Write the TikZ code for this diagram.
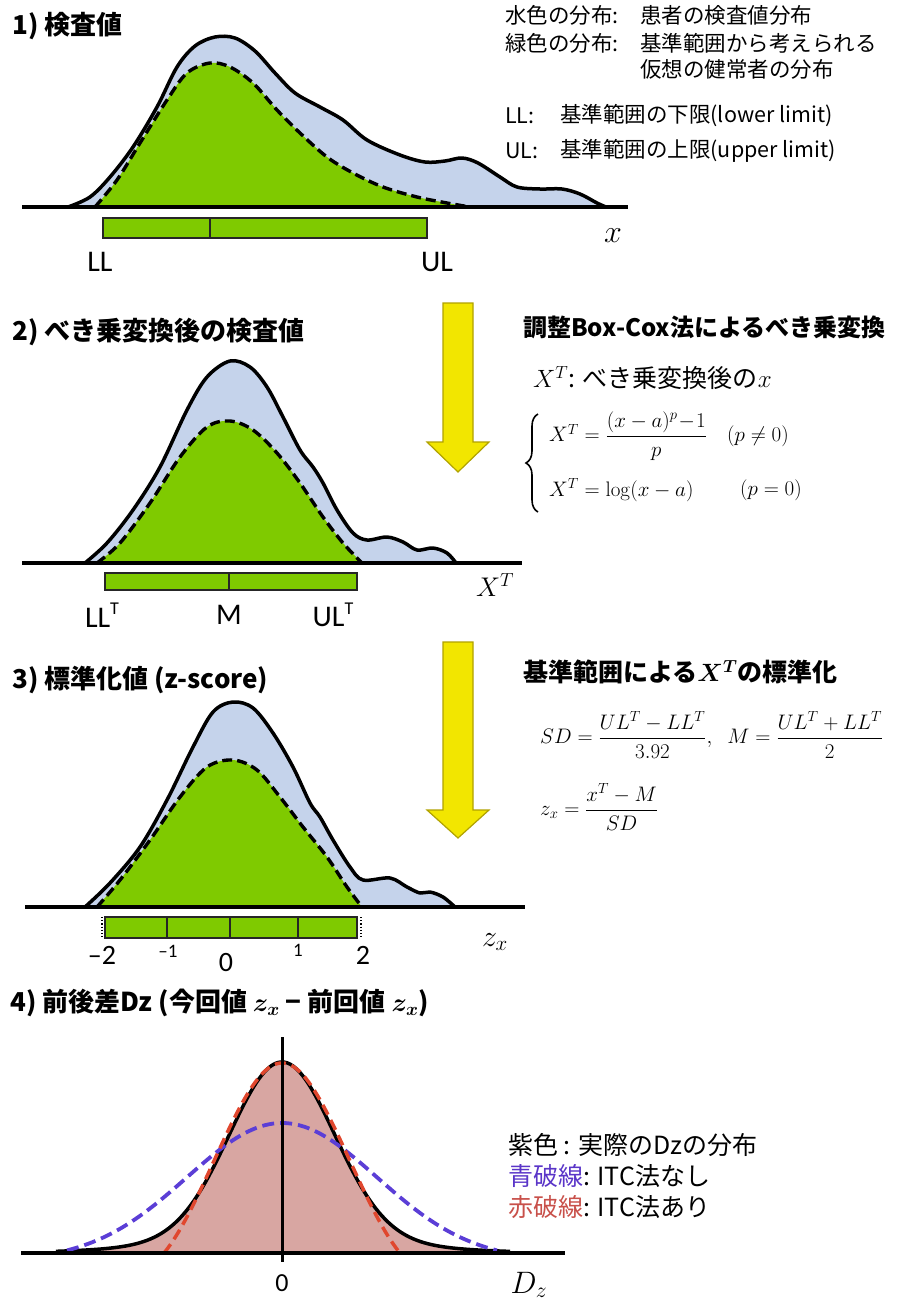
\RequirePackage{fix-cm}
\documentclass[tikz,border=0pt]{standalone}
\usepackage{amsmath}
\usepackage[no-math]{fontspec}
\setmainfont{Noto Sans CJK JP}
\newfontfamily\calfont{Carlito}
\usetikzlibrary{decorations.pathreplacing}
\definecolor{lblue}{HTML}{C5D3EB}
\definecolor{lgreen}{HTML}{7FCA00}
\definecolor{pinkfill}{HTML}{D8A6A2}
\definecolor{dblue}{HTML}{5B3ED6}
\definecolor{dred}{HTML}{E0472E}
\definecolor{arrowfill}{HTML}{F2E600}
\definecolor{arrowline}{HTML}{B0A200}
\definecolor{legblue}{HTML}{5A35C8}
\definecolor{legred}{HTML}{C8504A}
\tikzset{
  title/.style={anchor=west, inner sep=0pt, font=\fontsize{26}{30}\selectfont\bfseries\boldmath},
  head/.style={anchor=west, inner sep=0pt, font=\fontsize{25}{30}\selectfont\bfseries\boldmath},
  rtext/.style={anchor=west, inner sep=0pt, font=\fontsize{21.5}{26}\selectfont},
  legtext/.style={anchor=west, inner sep=0pt, font=\fontsize{25}{30}\selectfont},
  lab/.style={inner sep=0pt, font=\fontsize{30}{34}\selectfont\calfont},
  smalllab/.style={inner sep=0pt, font=\fontsize{19}{22}\selectfont\calfont},
  tick/.style={inner sep=0pt, font=\fontsize{28}{32}\selectfont\calfont},
  mathlab/.style={inner sep=0pt, font=\fontsize{30}{34}\selectfont},
  eq/.style={anchor=west, inner sep=0pt, font=\fontsize{21}{25}\selectfont},
  outer/.style={draw=black, line width=3.5pt, line join=round},
  dcurve/.style={draw=black, line width=3.4pt, dash pattern=on 10pt off 5pt, line join=round},
  axisline/.style={draw=black, line width=4.5pt},
  rangebar/.style={draw=black!85, line width=1.3pt, fill=lgreen},
  divline/.style={draw=black!85, line width=1.3pt},
  yarrow/.style={fill=arrowfill, draw=arrowline, line width=1.2pt, line join=miter},
  bluedash/.style={draw=dblue, line width=3.8pt, dash pattern=on 12pt off 6pt},
  reddash/.style={draw=dred, line width=3.5pt, dash pattern=on 11pt off 6pt},
}
\begin{document}
\begin{tikzpicture}[x=1pt, y=-1pt]
\useasboundingbox (0,0) rectangle (897,1302);

% ---------------- Panel 1 ----------------
\node[title] (t1) at (12,26) {1) 検査値};
\filldraw[fill=lblue, outer] plot[smooth, tension=0.55] coordinates {
 (68,207) (90,197) (110,177) (133,147) (157,107) (177,67) (195,46) (215,37) (235,38)
 (255,51) (275,73) (295,93) (320,107) (343,120) (367,140) (400,155) (425,162)
 (445,161) (462,158) (478,163) (500,177) (517,187) (540,189) (562,189) (580,194)
 (597,203) (606,207)} -- cycle;
\filldraw[fill=lgreen, dcurve] plot[smooth, tension=0.55] coordinates {
 (95,207) (117,180) (140,143) (167,100) (187,73) (210,63) (230,67) (253,83) (277,110)
 (300,133) (327,157) (353,173) (383,187) (417,197) (447,203) (470,207)} -- cycle;
\draw[axisline] (22,207) -- (628,207);
\draw[rangebar] (103,218) rectangle (427,238);
\draw[divline] (210,218) -- (210,238);
\node[lab] (ll1) at (100,262) {LL};
\node[lab] (ul1) at (437,262) {UL};
\node[mathlab, font=\fontsize{32}{36}\selectfont] (x1) at (613,236) {$x$};

\node[rtext] (r1a) at (505,15) {水色の分布:};
\node[rtext] (r1b) at (640,15) {患者の検査値分布};
\node[rtext] (r2a) at (505,43) {緑色の分布:};
\node[rtext] (r2b) at (640,43) {基準範囲から考えられる};
\node[rtext] (r3b) at (640,69) {仮想の健常者の分布};
\node[rtext] (r4a) at (505,116) {LL:};
\node[rtext] (r4b) at (560,116) {基準範囲の下限(lower limit)};
\node[rtext] (r5a) at (505,151) {UL:};
\node[rtext] (r5b) at (560,151) {基準範囲の上限(upper limit)};

% arrow 1
\filldraw[yarrow] (443,303) -- (473,303) -- (473,442) -- (489,442) -- (458,472)
  -- (427,442) -- (443,442) -- cycle;

% ---------------- Panel 2 ----------------
\node[title] (t2) at (12,332) {2) べき乗変換後の検査値};
\filldraw[fill=lblue, outer] plot[smooth, tension=0.55] coordinates {
 (85,563) (107,543) (133,510) (160,467) (187,410) (207,377) (230,361) (250,367)
 (267,387) (283,417) (300,450) (313,467) (323,483) (337,510) (353,533) (367,540)
 (387,537) (403,542) (417,550) (433,548) (447,553) (456,563)} -- cycle;
\filldraw[fill=lgreen, dcurve] plot[smooth, tension=0.55] coordinates {
 (97,563) (120,543) (150,503) (180,457) (207,427) (230,421) (253,430) (277,453)
 (300,483) (323,517) (343,543) (362,563)} -- cycle;
\draw[axisline] (22,563) -- (522,563);
\draw[rangebar] (105,573) rectangle (357,590);
\draw[divline] (229,573) -- (229,590);
\node[lab] (ll2) at (102,615) {LL\raisebox{0.42em}{\fontsize{18}{18}\selectfont T}};
\node[lab] (m2) at (229,615) {M};
\node[lab] (ul2) at (333,615) {UL\raisebox{0.42em}{\fontsize{18}{18}\selectfont T}};
\node[mathlab, font=\fontsize{27}{32}\selectfont] (xt2) at (495,585) {$X^{T}$};

\node[head, font=\fontsize{24}{28}\selectfont\bfseries] (h2) at (523,327) {調整Box-Cox法によるべき乗変換};
\node[anchor=west, inner sep=0pt, font=\fontsize{25}{30}\selectfont] (d2) at (533,378)
  {$X^{T}$: べき乗変換後の$x$};
\draw[decorate, decoration={brace, amplitude=12pt}, line width=1.6pt]
  (538,512) -- (538,414);
\node[eq] (e1) at (549,436) {$X^{T} = \dfrac{(x-a)^{p}\!-\!1}{p}$};
\node[eq] (c1) at (727,436) {$(p\neq 0)$};
\node[eq] (e2) at (549,490) {$X^{T} = \log(x-a)$};
\node[eq] (c2) at (740,490) {$(p=0)$};

% arrow 2
\filldraw[yarrow] (443,642) -- (473,642) -- (473,810) -- (489,810) -- (458,838)
  -- (427,810) -- (443,810) -- cycle;

% ---------------- Panel 3 ----------------
\node[title] (t3) at (12,680) {3) 標準化値 (z-score)};
\filldraw[fill=lblue, outer] plot[smooth, tension=0.55] coordinates {
 (85,907) (110,883) (140,847) (167,800) (193,747) (213,712) (233,702) (253,708)
 (273,733) (293,767) (310,803) (320,817) (333,840) (350,867) (363,880) (390,878)
 (407,887) (420,893) (430,892) (443,897) (455,907)} -- cycle;
\filldraw[fill=lgreen, dcurve] plot[smooth, tension=0.55] coordinates {
 (97,907) (120,880) (150,840) (180,797) (207,767) (233,760) (257,770) (280,797)
 (303,827) (327,857) (347,887) (362,907)} -- cycle;
\draw[axisline] (25,907) -- (525,907);
\draw[rangebar] (105,917) rectangle (357,938);
\foreach \xx in {167,230,298} \draw[divline] (\xx,917) -- (\xx,938);
\draw[black, line width=1.2pt, dotted] (102,917) -- (102,938);
\draw[black, line width=1.2pt, dotted] (361,917) -- (361,938);
\node[tick] (m2l) at (102,955) {–2};
\node[smalllab] (m1l) at (168,951) {–1};
\node[tick] (z0l) at (226,962) {0};
\node[smalllab] (p1l) at (298,950) {1};
\node[tick] (p2l) at (363,955) {2};
\node[mathlab] (zx3) at (495,942) {$z_{x}$};

\node[head] (h3) at (523,672) {基準範囲による$X^{T}$の標準化};
\node[eq] (e3) at (540,735) {$SD = \dfrac{UL^{T} - LL^{T}}{3.92},\;\; M = \dfrac{UL^{T} + LL^{T}}{2}$};
\node[eq] (e4) at (540,807) {$z_{x} = \dfrac{x^{T} - M}{SD}$};

% ---------------- Panel 4 ----------------
\node[title] (t4) at (10,1003) {4) 前後差Dz (今回値 $z_{x}$ − 前回値 $z_{x}$)};
\fill[pinkfill] plot[domain=-226:228, samples=150]
  ({282+\x},{1253-177*exp(-0.5*(\x/52)*(\x/52))-14*exp(-0.5*(\x/110)*(\x/110))}) -- cycle;
\draw[outer] plot[domain=-226:228, samples=150]
  ({282+\x},{1253-177*exp(-0.5*(\x/52)*(\x/52))-14*exp(-0.5*(\x/110)*(\x/110))});
\draw[bluedash] plot[domain=-215:215, samples=120]
  ({282+\x},{1253-(138*exp(-0.5*(\x/95)*(\x/95))-8)});
\draw[reddash] plot[domain=-118:118, samples=120]
  ({282+\x},{1253-190*exp(-0.5*(\x/58)*(\x/58))*(1-(\x/118)*(\x/118)*(\x/118)*(\x/118)*(\x/118)*(\x/118))});
\draw[axisline] (21,1253) -- (565,1253);
\draw[black, line width=3pt] (282,1037) -- (282,1262);
\node[tick, font=\fontsize{26}{30}\selectfont\calfont] (o4) at (282,1283) {0};
\node[mathlab, font=\fontsize{31}{36}\selectfont] (dz4) at (529,1285) {$D_{z}$};

\node[legtext] (lg1) at (508,1145) {紫色 : 実際のDzの分布};
\node[legtext] (lg2) at (508,1176) {{\color{legblue}青破線}: ITC法なし};
\node[legtext] (lg3) at (508,1207) {{\color{legred}赤破線}: ITC法あり};
\end{tikzpicture}
\end{document}
